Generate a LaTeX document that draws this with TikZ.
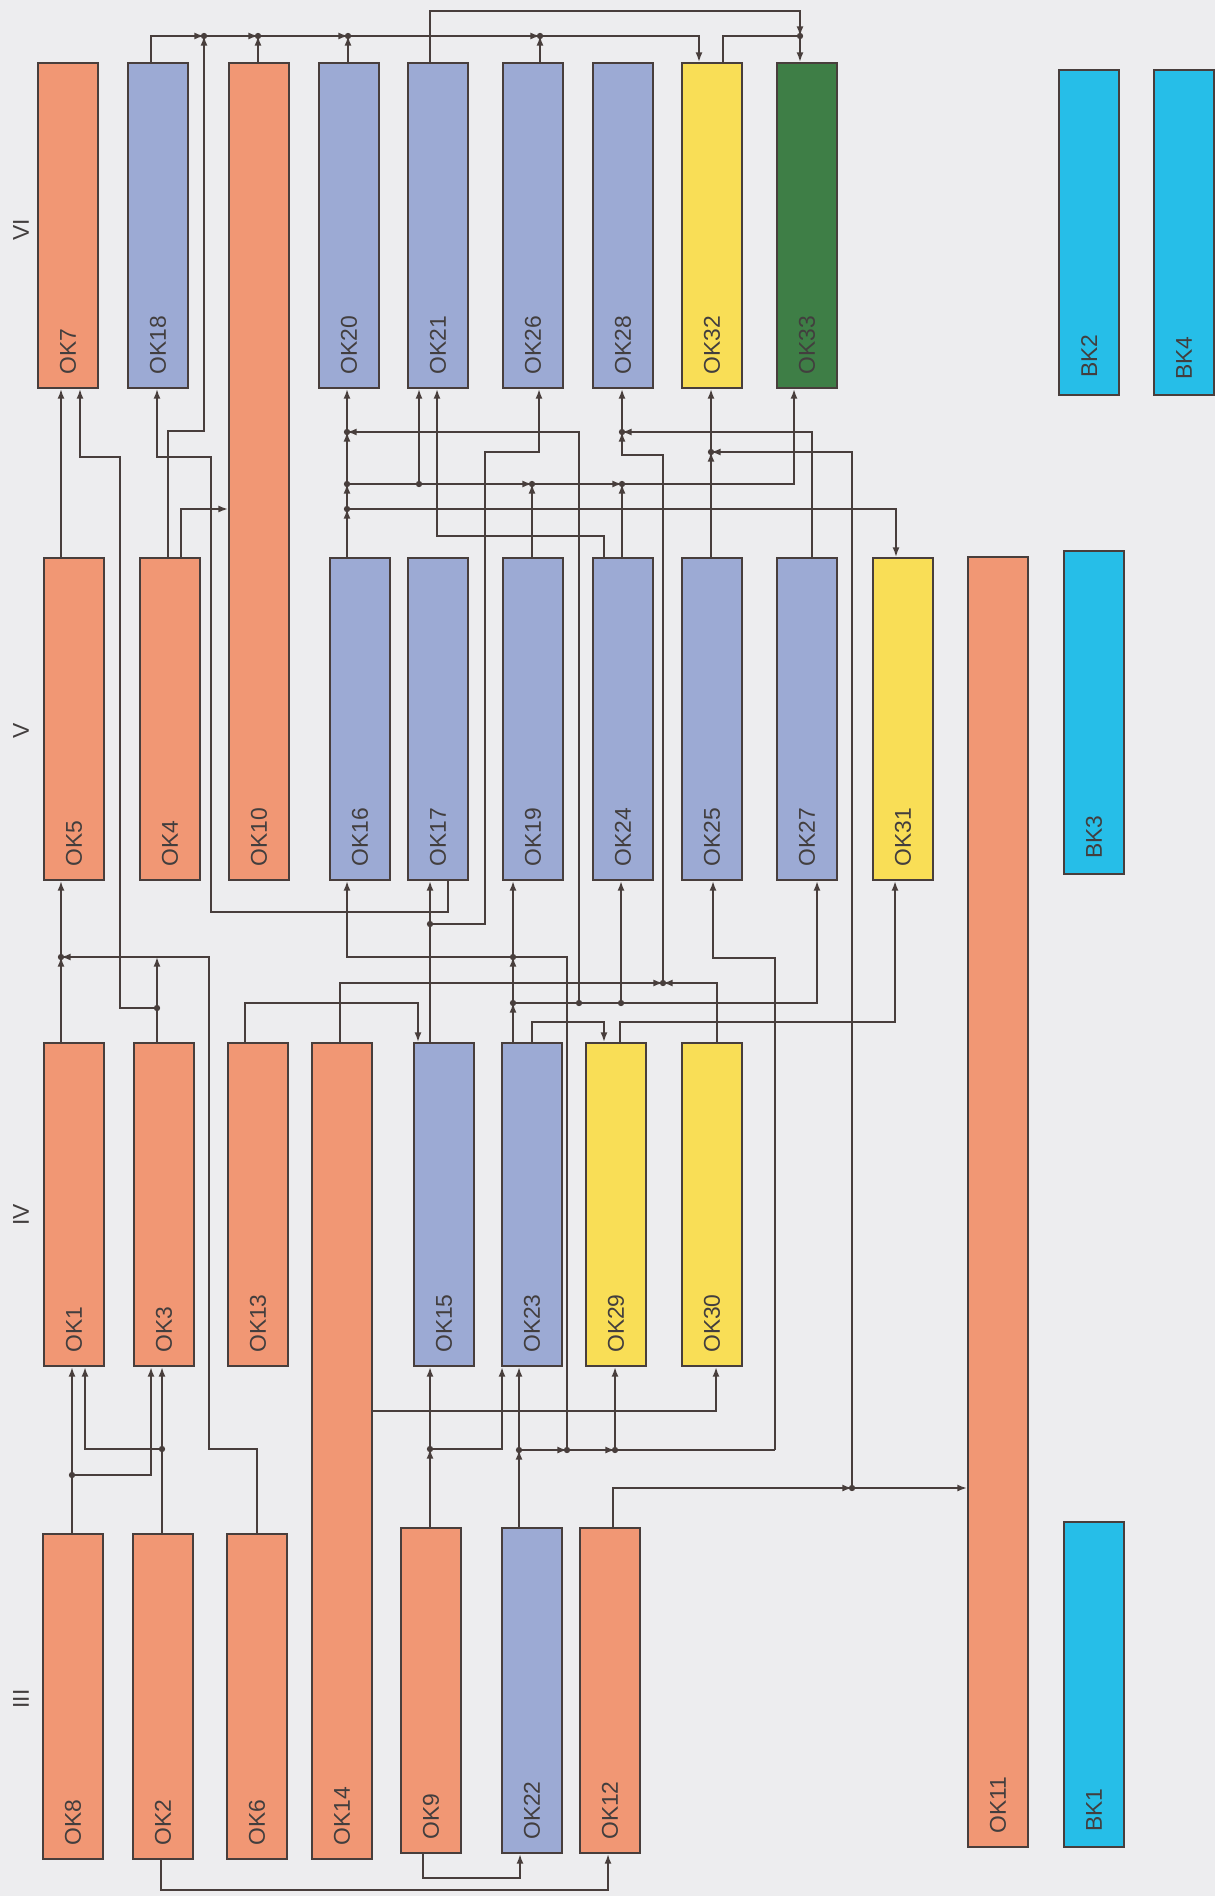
\documentclass[tikz,border=0pt]{standalone}
\usepackage{fontspec}
\setmainfont{Liberation Sans}
\usetikzlibrary{arrows.meta,calc}

\definecolor{salmon}{RGB}{241,151,116}
\definecolor{slate}{RGB}{156,170,212}
\definecolor{lemon}{RGB}{249,222,86}
\definecolor{moss}{RGB}{62,126,70}
\definecolor{sky}{RGB}{38,190,232}
\definecolor{paper}{RGB}{237,237,239}
\definecolor{ink}{RGB}{72,62,60}
\definecolor{txt}{RGB}{66,62,62}

\tikzset{
  box/.style={draw=ink, fill=#1, line width=1.2pt, rectangle, inner sep=0pt,
    minimum width=1.2cm, minimum height=6.46cm, anchor=north west},
  lbl/.style={rotate=90, anchor=west, inner sep=0pt, text=txt,
    font=\fontsize{13}{15}\selectfont},
  wire/.style={draw=ink, line width=1pt},
  dot/.style={fill=ink}
}

\begin{document}
\begin{tikzpicture}[x=0.02cm, y=-0.02cm, >={Latex[length=5.5pt,width=4pt]}]
    % paper
    \fill[paper] (0,0) rectangle (1215,1896);
    \useasboundingbox (0,0) rectangle (1215,1896);

    % the stages
    \node[lbl, anchor=center] (r6) at (21,230) {VI};
    \node[lbl, anchor=center] (r5) at (21,731) {V};
    \node[lbl, anchor=center] (r4) at (21,1215) {IV};
    \node[lbl, anchor=center] (r3) at (21,1699) {III};

    % stage VI
    \node[box=salmon, minimum height=6.5cm] (ok7) at (37,62) {};
    \node[box=slate, minimum height=6.5cm] (ok18) at (127,62) {};
    \node[box=salmon, minimum height=16.34cm] (ok10) at (228,62) {};
    \node[box=slate, minimum height=6.5cm] (ok20) at (318,62) {};
    \node[box=slate, minimum height=6.5cm] (ok21) at (407,62) {};
    \node[box=slate, minimum height=6.5cm] (ok26) at (502,62) {};
    \node[box=slate, minimum height=6.5cm] (ok28) at (592,62) {};
    \node[box=lemon, minimum height=6.5cm] (ok32) at (681,62) {};
    \node[box=moss, minimum height=6.5cm] (ok33) at (776,62) {};
    \node[box=sky, minimum height=6.5cm] (bk2) at (1058,69) {};
    \node[box=sky, minimum height=6.5cm] (bk4) at (1153,69) {};

    % stage V
    \node[box=salmon, minimum height=6.44cm] (ok5) at (43,557) {};
    \node[box=salmon, minimum height=6.44cm] (ok4) at (139,557) {};
    \node[box=slate, minimum height=6.44cm] (ok16) at (329,557) {};
    \node[box=slate, minimum height=6.44cm] (ok17) at (407,557) {};
    \node[box=slate, minimum height=6.44cm] (ok19) at (502,557) {};
    \node[box=slate, minimum height=6.44cm] (ok24) at (592,557) {};
    \node[box=slate, minimum height=6.44cm] (ok25) at (681,557) {};
    \node[box=slate, minimum height=6.44cm] (ok27) at (776,557) {};
    \node[box=lemon, minimum height=6.44cm] (ok31) at (872,557) {};
    \node[box=salmon, minimum height=25.8cm] (ok11) at (967,556) {};
    \node[box=sky] (bk3) at (1063,550) {};

    % stage IV
    \node[box=salmon] (ok1) at (43,1042) {};
    \node[box=salmon] (ok3) at (133,1042) {};
    \node[box=salmon] (ok13) at (227,1042) {};
    \node[box=salmon, minimum height=16.32cm] (ok14) at (311,1042) {};
    \node[box=slate] (ok15) at (413,1042) {};
    \node[box=slate] (ok23) at (501,1042) {};
    \node[box=lemon] (ok29) at (585,1042) {};
    \node[box=lemon] (ok30) at (681,1042) {};

    % stage III
    \node[box=salmon, minimum height=6.5cm] (ok8) at (42,1533) {};
    \node[box=salmon, minimum height=6.5cm] (ok2) at (132,1533) {};
    \node[box=salmon, minimum height=6.5cm] (ok6) at (226,1533) {};
    \node[box=salmon, minimum height=6.5cm] (ok9) at (400,1527) {};
    \node[box=slate, minimum height=6.5cm] (ok22) at (501,1527) {};
    \node[box=salmon, minimum height=6.5cm] (ok12) at (579,1527) {};
    \node[box=sky, minimum height=6.5cm] (bk1) at (1063,1521) {};

    % the names, near the bottom of each box
    \node[lbl] (t7) at ($(ok7.south)+(0,-14)$) {OK7};
    \node[lbl] (t18) at ($(ok18.south)+(0,-14)$) {OK18};
    \node[lbl] (t10) at ($(ok10.south)+(0,-14)$) {OK10};
    \node[lbl] (t20) at ($(ok20.south)+(0,-14)$) {OK20};
    \node[lbl] (t21) at ($(ok21.south)+(0,-14)$) {OK21};
    \node[lbl] (t26) at ($(ok26.south)+(0,-14)$) {OK26};
    \node[lbl] (t28) at ($(ok28.south)+(0,-14)$) {OK28};
    \node[lbl] (t32) at ($(ok32.south)+(0,-14)$) {OK32};
    \node[lbl] (t33) at ($(ok33.south)+(0,-14)$) {OK33};
    \node[lbl] (tb2) at ($(bk2.south)+(0,-18)$) {BK2};
    \node[lbl] (tb4) at ($(bk4.south)+(0,-16)$) {BK4};
    \node[lbl] (t5) at ($(ok5.south)+(0,-14)$) {OK5};
    \node[lbl] (t4) at ($(ok4.south)+(0,-14)$) {OK4};
    \node[lbl] (t16) at ($(ok16.south)+(0,-14)$) {OK16};
    \node[lbl] (t17) at ($(ok17.south)+(0,-14)$) {OK17};
    \node[lbl] (t19) at ($(ok19.south)+(0,-14)$) {OK19};
    \node[lbl] (t24) at ($(ok24.south)+(0,-14)$) {OK24};
    \node[lbl] (t25) at ($(ok25.south)+(0,-14)$) {OK25};
    \node[lbl] (t27) at ($(ok27.south)+(0,-14)$) {OK27};
    \node[lbl] (t31) at ($(ok31.south)+(0,-14)$) {OK31};
    \node[lbl] (t11) at ($(ok11.south)+(0,-14)$) {OK11};
    \node[lbl] (tb3) at ($(bk3.south)+(0,-16)$) {BK3};
    \node[lbl] (t1) at ($(ok1.south)+(0,-14)$) {OK1};
    \node[lbl] (t3) at ($(ok3.south)+(0,-14)$) {OK3};
    \node[lbl] (t13) at ($(ok13.south)+(0,-14)$) {OK13};
    \node[lbl] (t14) at ($(ok14.south)+(0,-14)$) {OK14};
    \node[lbl] (t15) at ($(ok15.south)+(0,-14)$) {OK15};
    \node[lbl] (t23) at ($(ok23.south)+(0,-14)$) {OK23};
    \node[lbl] (t29) at ($(ok29.south)+(0,-14)$) {OK29};
    \node[lbl] (t30) at ($(ok30.south)+(0,-14)$) {OK30};
    \node[lbl] (t8) at ($(ok8.south)+(0,-14)$) {OK8};
    \node[lbl] (t2) at ($(ok2.south)+(0,-14)$) {OK2};
    \node[lbl] (t6) at ($(ok6.south)+(0,-14)$) {OK6};
    \node[lbl] (t9) at ($(ok9.south)+(0,-14)$) {OK9};
    \node[lbl] (t22) at ($(ok22.south)+(0,-14)$) {OK22};
    \node[lbl] (t12) at ($(ok12.south)+(0,-14)$) {OK12};
    \node[lbl] (tb1) at ($(bk1.south)+(0,-16)$) {BK1};

    % the branch points
    \coordinate (b1) at (204,36);
    \coordinate (b2) at (258,36);
    \coordinate (b3) at (348,36);
    \coordinate (b4) at (540,36);
    \coordinate (b5) at (800,36);
    \coordinate (c1) at (61,957);
    \coordinate (c3) at (157,1008);
    \coordinate (c8) at (72,1475);
    \coordinate (c2) at (162,1449);
    \coordinate (c9) at (430,1449);
    \coordinate (c15) at (430,924);
    \coordinate (c16a) at (347,509);
    \coordinate (c16b) at (347,484);
    \coordinate (c20) at (347,432);
    \coordinate (c21) at (419,484);
    \coordinate (c22a) at (519,1450);
    \coordinate (c22b) at (567,1450);
    \coordinate (c22c) at (615,1450);
    \coordinate (c23a) at (513,1003);
    \coordinate (c23b) at (513,957);
    \coordinate (c23c) at (579,1003);
    \coordinate (c23d) at (621,1003);
    \coordinate (c28) at (663,983);
    \coordinate (c28b) at (622,432);
    \coordinate (c32) at (711,452);
    \coordinate (c33a) at (532,484);
    \coordinate (c33b) at (622,484);
    \coordinate (c12) at (852,1488);

    % above stage VI
    \draw[wire,->] (151,0 |- ok18.north) |- (b1);
    \draw[wire,->] (168,0 |- ok4.north) |- (204,431) -- (b1);
    \draw[wire,->] (b1) -- (b2);
    \draw[wire,->] (258,0 |- ok10.north) -- (b2);
    \draw[wire,->] (b2) -- (b3);
    \draw[wire,->] (348,0 |- ok20.north) -- (b3);
    \draw[wire,->] (b3) -- (b4);
    \draw[wire,->] (540,0 |- ok26.north) -- (b4);
    \draw[wire,->] (b4) -| (699,0 |- ok32.north);
    \draw[wire,->] (430,0 |- ok21.north) |- (800,11) -- (b5);
    \draw[wire] (723,0 |- ok32.north) |- (b5);
    \draw[wire,->] (b5) -- (800,0 |- ok33.north);

    % between V and VI
    \draw[wire,->] (61,0 |- ok5.north) -- (61,0 |- ok7.south);
    \draw[wire,->] (181,0 |- ok4.north) |- (ok10.west |- 0,509);
    \draw[wire,->] (347,0 |- ok16.north) -- (c16a);
    \draw[wire,->] (c16a) -- (c16b);
    \draw[wire,->] (c16b) -- (c20);
    \draw[wire,->] (c20) -- (347,0 |- ok20.south);
    \draw[wire,->] (c16a) -| (896,0 |- ok31.north);
    \draw[wire] (c16b) -- (c21);
    \draw[wire,->] (c21) -- (419,0 |- ok21.south);
    \draw[wire,->] (c21) -- (c33a);
    \draw[wire,->] (c33a) -- (c33b);
    \draw[wire,->] (c33b) -| (794,0 |- ok33.south);
    \draw[wire,->] (532,0 |- ok19.north) -- (c33a);
    \draw[wire,->] (622,0 |- ok24.north) -- (c33b);
    \draw[wire,->] (604,0 |- ok24.north) |- (437,536) -- (437,0 |- ok21.south);
    \draw[wire,->] (812,0 |- ok27.north) |- (c28b);
    \draw[wire,->] (c28b) -- (622,0 |- ok28.south);
    \draw[wire,->] (711,0 |- ok25.north) -- (c32);
    \draw[wire,->] (c32) -- (711,0 |- ok32.south);

    % between IV and V
    \draw[wire,->] (61,0 |- ok1.north) -- (c1);
    \draw[wire,->] (c1) -- (61,0 |- ok5.south);
    \draw[wire] (157,0 |- ok3.north) -- (c3);
    \draw[wire,->] (c3) -- (157,957);
    \draw[wire,->] (c3) -| (120,457) -| (80,0 |- ok7.south);
    \draw[wire,->] (257,0 |- ok6.north) |- (209,1449) -- (209,957) -- (c1);
    \draw[wire,->] (448,0 |- ok17.south) |- (211,912) |- (157,457) -- (157,0 |- ok18.south);
    \draw[wire,->] (245,0 |- ok13.north) |- (418,1003) -- (418,0 |- ok15.north);
    \draw[wire,->] (340,0 |- ok14.north) |- (c28);
    \draw[wire,->] (717,0 |- ok30.north) |- (c28);
    \draw[wire,->] (c28) |- (622,455) -- (c28b);
    \draw[wire] (430,0 |- ok15.north) -- (c15);
    \draw[wire,->] (c15) -- (430,0 |- ok17.south);
    \draw[wire,->] (c15) -| (485,452) -| (539,0 |- ok26.south);
    \draw[wire,->] (513,0 |- ok23.north) -- (c23a);
    \draw[wire,->] (c23a) -- (c23b);
    \draw[wire,->] (c23b) -- (513,0 |- ok19.south);
    \draw[wire] (c23a) -- (c23d);
    \draw[wire,->] (c23d) -| (817,0 |- ok27.south);
    \draw[wire,->] (c23d) -- (621,0 |- ok24.south);
    \draw[wire,->] (c23c) |- (c20);
    \draw[wire,->] (532,0 |- ok23.north) |- (604,1022) -- (604,0 |- ok29.north);
    \draw[wire,->] (620,0 |- ok29.north) |- (895,1022) -- (895,0 |- ok31.south);
    \draw[wire,->] (c22b) |- (347,957) -- (347,0 |- ok16.south);
    \draw[wire,->] (775,1450) |- (713,958) -- (713,0 |- ok25.south);
    \draw[wire,->] (c12) |- (c32);

    % between III and IV
    \draw[wire] (72,0 |- ok8.north) -- (c8);
    \draw[wire,->] (c8) -- (72,0 |- ok1.south);
    \draw[wire,->] (c8) -| (151,0 |- ok3.south);
    \draw[wire] (162,0 |- ok2.north) -- (c2);
    \draw[wire,->] (c2) -- (162,0 |- ok3.south);
    \draw[wire,->] (c2) -| (85,0 |- ok1.south);
    \draw[wire,->] (ok14.east |- 0,1411) -| (716,0 |- ok30.south);
    \draw[wire,->] (430,0 |- ok9.north) -- (c9);
    \draw[wire,->] (c9) -- (430,0 |- ok15.south);
    \draw[wire,->] (c9) -| (502,0 |- ok23.south);
    \draw[wire,->] (519,0 |- ok22.north) -- (c22a);
    \draw[wire,->] (c22a) -- (519,0 |- ok23.south);
    \draw[wire,->] (c22a) -- (c22b);
    \draw[wire,->] (c22b) -- (c22c);
    \draw[wire] (c22c) -- (775,1450);
    \draw[wire,->] (c22c) -- (615,0 |- ok29.south);
    \draw[wire,->] (613,0 |- ok12.north) |- (c12);
    \draw[wire,->] (c12) -- (ok11.west |- c12);

    % below stage III
    \draw[wire,->] (161,0 |- ok2.south) |- (608,1890) -- (608,0 |- ok12.south);
    \draw[wire,->] (423,0 |- ok9.south) |- (520,1878) -- (520,0 |- ok22.south);

    % the dots on the branch points
    \foreach \p in {b1,b2,b3,b4,b5,c1,c3,c8,c2,c9,c15,c16a,c16b,c20,c21,
                    c22a,c22b,c22c,c23a,c23b,c23c,c23d,c28,c28b,c32,c33a,c33b,c12}
        \fill[dot] (\p) circle (1.8pt);
\end{tikzpicture}
\end{document}
